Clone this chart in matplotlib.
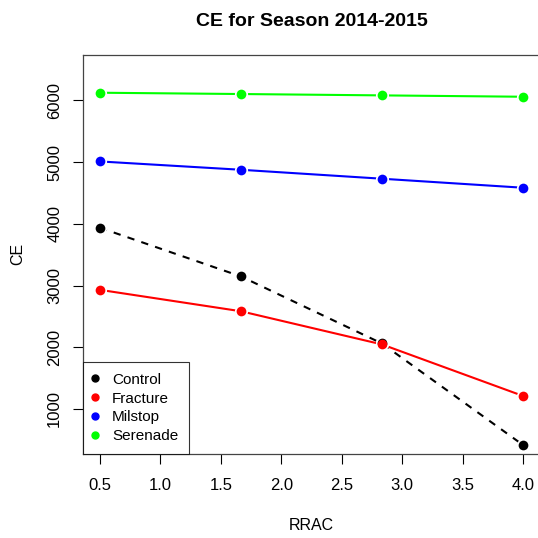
import matplotlib
matplotlib.use("Agg")
import matplotlib.pyplot as plt
import numpy as np

plt.rcParams['font.family'] = ['Liberation Sans', 'DejaVu Sans']

rrac = [0.5, 1.667, 2.833, 4.0]
treatments = ["Control", "Fracture", "Milstop", "Serenade"]
control = [3936, 3147, 2061, 416]
fracture = [2930, 2583, 2046, 1211]
milstop = [5010, 4875, 4730, 4584]
serenade = [6123, 6102, 6080, 6058]
colors = ["black", "red", "blue", "#00ff00"]
styles = ["--", "-", "-", "-"]

fig = plt.figure(figsize=(5.38, 5.38), dpi=100)
ax = fig.add_axes([83 / 538, 1 - 454 / 538, 457 / 538, (454 - 54.7) / 538])

series = [control, fracture, milstop, serenade]
# lines first, then points with white rims to get the R "type=b" gaps
for vals, c, ls in zip(series, colors, styles):
    line, = ax.plot(rrac, vals, color=c, lw=1.5, ls=ls, zorder=2)
    if ls == "--":
        line.set_dashes((3.5, 3.5))
for vals, c in zip(series, colors):
    ax.plot(rrac, vals, ls="none", marker="o", ms=7, mfc=c, mec="white",
            mew=2.5, zorder=3)
for vals, c in zip(series, colors):
    ax.plot(rrac, vals, ls="none", marker="o", ms=7, mfc=c, mec=c,
            mew=0, zorder=4)

ax.set_xlim(0.36, 4.14)
ax.set_ylim(271, 6739)
ax.set_xticks(np.arange(0.5, 4.01, 0.5))
ax.set_yticks([1000, 2000, 3000, 4000, 5000, 6000])
ax.set_yticklabels(["1000", "2000", "3000", "4000", "5000", "6000"],
                   rotation=90, va="center")
ax.tick_params(axis="both", length=7, width=0.8, labelsize=12)
ax.tick_params(axis="x", pad=10)
ax.tick_params(axis="y", pad=8)
for s in ax.spines.values():
    s.set_color("#444444")
    s.set_linewidth(0.9)

ax.set_xlabel("RRAC", fontsize=11.5, labelpad=18)
ax.set_ylabel("CE", fontsize=11.5, labelpad=16)
ax.set_title("CE for Season 2014-2015", fontsize=14, fontweight="bold", pad=21)

handles = [plt.Line2D([], [], ls="none", marker="o", ms=5, color=c) for c in colors]
leg = ax.legend(handles, treatments, loc="lower left", borderaxespad=0,
                fontsize=11, frameon=True, fancybox=False, handlelength=0.2,
                handletextpad=1.0, labelspacing=0.32, borderpad=0.7)
leg.get_frame().set_edgecolor("black")
leg.get_frame().set_linewidth(0.8)

fig.savefig("out.png", dpi=100)
